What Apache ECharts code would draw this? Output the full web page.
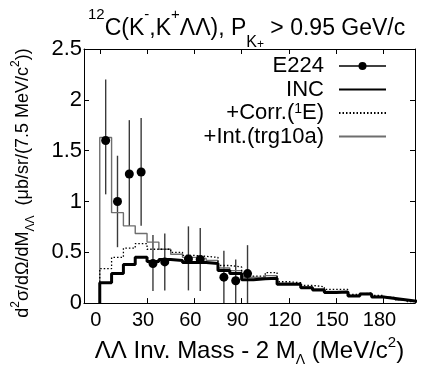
<!DOCTYPE html>
<html>
<head>
<meta charset="utf-8">
<script src="https://cdn.jsdelivr.net/npm/echarts@6/dist/echarts.min.js"></script>
<style>html,body{margin:0;padding:0;background:#fff}#c{width:421px;height:372px}</style>
</head>
<body>
<div id="c"></div>
<script>
// bins of 7.5 MeV starting at 0
const binWidth = 7.5;
const incValues  = [0.20, 0.29, 0.38, 0.45, 0.41, 0.43, 0.42, 0.40, 0.40, 0.39, 0.32, 0.29, 0.23, 0.24, 0.245, 0.185, 0.185, 0.15, 0.13, 0.105, 0.11, 0.07, 0.09, 0.06, 0.045, 0.03, 0.015];
const corrValues = [0.34, 0.45, 0.54, 0.585, 0.53, 0.53, 0.50, 0.47, 0.46, 0.45, 0.37, 0.355, 0.265, 0.265, 0.30, 0.21, 0.20, 0.175, 0.16, 0.135, 0.135, 0.085, 0.10, 0.075, 0.055, 0.035, 0.015];
const intValues  = [1.63, 0.89, 0.76, 0.685, 0.60, 0.53, 0.48, 0.45, 0.44, 0.42, 0.345, 0.32, 0.255, 0.25, 0.27, 0.195, 0.19, 0.16, 0.14, 0.115, 0.115, 0.075, 0.095, 0.065, 0.05, 0.03, 0.012];

// E224 data
const expX     = [3.75, 11.25, 18.75, 26.25, 33.75, 41.25, 56.25, 63.75, 78.75, 86.25, 93.75];
const expY     = [1.60, 1.00, 1.27, 1.29, 0.39, 0.405, 0.435, 0.43, 0.255, 0.22, 0.29];
const errPlus  = [0.60, 0.45, 0.53, 0.53, 0.28, 0.28, 0.32, 0.31, 0.26, 0.21, 0.28];
const errMinus = [0.53, 0.45, 0.51, 0.53, 0.27, 0.28, 0.31, 0.31, 0.26, 0.22, 0.29];

const xTicks = [0, 30, 60, 90, 120, 150, 180];
const yTicks = [0, 0.5, 1, 1.5, 2, 2.5];

function histData(vals) {
  const d = [[0, 0]];
  vals.forEach((v, i) => d.push([i * binWidth, v]));
  d.push([vals.length * binWidth, vals[vals.length - 1]]);
  return d;
}

const FONT = 'Liberation Sans';
const chart = echarts.init(document.getElementById('c'), null, {renderer: 'canvas'});

const legendNames = {
  'E224': '{n|E224}',
  'INC': '{n|INC}',
  '+Corr.(1E)': '{n|+Corr.(}{s|1}{n|E)}',
  '+Int.(trg10a)': '{n|+Int.(trg10a)}'
};

const option = {
  animation: false,
  backgroundColor: '#fff',
  title: {
    text: '{sup|12}{n|C(K}{sup|-}{n|,K}{sup|+}{n|ΛΛ), P}{sub|K}{sup2|+}{n| > 0.95 GeV/c}',
    left: 83, top: 2,
    textStyle: {
      fontWeight: 'normal',
      rich: {
        n: {fontSize: 23, fontFamily: FONT, color: '#000', lineHeight: 34, fontWeight: 'normal'},
        sup: {fontSize: 15, fontFamily: FONT, color: '#000', verticalAlign: 'top', lineHeight: 32, fontWeight: 'normal'},
        sub: {fontSize: 16, fontFamily: FONT, color: '#000', verticalAlign: 'bottom', lineHeight: 34, fontWeight: 'normal'},
        sup2: {fontSize: 12, fontFamily: FONT, color: '#000', verticalAlign: 'bottom', lineHeight: 44, fontWeight: 'normal'}
      }
    }
  },
  grid: {left: 84, right: 6, top: 49, bottom: 59, containLabel: false},
  legend: {
    orient: 'vertical', right: 34, top: 55, align: 'right',
    itemWidth: 47, itemHeight: 10, itemGap: 1.5, padding: 0,
    formatter: n => legendNames[n],
    textStyle: {
      padding: [0, 10, 0, 0],
      rich: {
        n: {fontSize: 22, fontFamily: FONT, color: '#000', lineHeight: 22},
        s: {fontSize: 14, fontFamily: FONT, color: '#000', verticalAlign: 'top', lineHeight: 22}
      }
    },
    data: [
      {name: 'E224', lineStyle: {width: 1.3, color: '#000', opacity: 1}},
      {name: 'INC', itemStyle: {opacity: 0}},
      {name: '+Corr.(1E)', itemStyle: {opacity: 0}},
      {name: '+Int.(trg10a)', itemStyle: {opacity: 0}}
    ]
  },
  xAxis: [{
    type: 'value', min: -10, max: 200, interval: 30,
    axisLine: {show: true, onZero: false, lineStyle: {color: '#000', width: 1.2}},
    axisTick: {show: true, inside: true, length: 5, lineStyle: {color: '#000'}, customValues: xTicks},
    axisLabel: {show: true, fontSize: 20, fontFamily: FONT, color: '#000', margin: 7, padding: [0, 8, 0, 0], customValues: xTicks},
    splitLine: {show: false},
    name: '{n|ΛΛ Inv. Mass - 2 M}{sub|Λ}{n| (MeV/c}{sup|2}{n|)}',
    nameLocation: 'middle', nameGap: 19,
    nameTextStyle: {rich: {
      n: {fontSize: 24, fontFamily: FONT, color: '#000', lineHeight: 32},
      sub: {fontSize: 14, fontFamily: FONT, color: '#000', verticalAlign: 'bottom', lineHeight: 32},
      sup: {fontSize: 15, fontFamily: FONT, color: '#000', verticalAlign: 'top', lineHeight: 32}
    }}
  }, {
    type: 'value', position: 'top', min: -10, max: 200,
    axisLine: {show: true, onZero: false, lineStyle: {color: '#000', width: 1}},
    axisTick: {show: true, inside: true, length: 5, lineStyle: {color: '#000'}, customValues: xTicks},
    axisLabel: {show: false}, splitLine: {show: false}
  }],
  yAxis: [{
    type: 'value', min: 0, max: 2.5, interval: 0.5,
    axisLine: {show: true, onZero: false, lineStyle: {color: '#000', width: 1}},
    axisTick: {show: true, inside: true, length: 5, lineStyle: {color: '#000'}},
    axisLabel: {show: true, fontSize: 22, fontFamily: FONT, color: '#000', margin: 2,
      formatter: v => yTicks.indexOf(v) >= 0 ? String(v) : ''},
    splitLine: {show: false},
    name: '{n|d}{sup|2}{n|σ/dΩ/dM}{sub|ΛΛ}{n|  (μb/sr/(7.5 MeV/c}{sup|2}{n|))}',
    nameLocation: 'middle', nameRotate: 90, nameGap: 47,
    nameTextStyle: {padding: [0, 14, 0, 0], rich: {
      n: {fontSize: 18, fontFamily: FONT, color: '#000', lineHeight: 27},
      sup: {fontSize: 12, fontFamily: FONT, color: '#000', verticalAlign: 'top', lineHeight: 27},
      sub: {fontSize: 12, fontFamily: FONT, color: '#000', verticalAlign: 'bottom', lineHeight: 27}
    }}
  }, {
    type: 'value', position: 'right', min: 0, max: 2.5, interval: 0.5,
    axisLine: {show: true, onZero: false, lineStyle: {color: '#000', width: 1}},
    axisTick: {show: true, inside: true, length: 5, lineStyle: {color: '#000'}},
    axisLabel: {show: false}, splitLine: {show: false}
  }],
  series: [
    {
      name: '+Int.(trg10a)', type: 'line', step: 'end', symbol: 'none', clip: true,
      data: histData(intValues),
      lineStyle: {color: '#6e6e6e', width: 1.4}, itemStyle: {color: '#6e6e6e'}
    },
    {
      name: '+Corr.(1E)', type: 'line', step: 'end', symbol: 'none', clip: true,
      data: histData(corrValues),
      lineStyle: {color: '#000', width: 1.3, type: [1.5, 2]}, itemStyle: {color: '#000'}
    },
    {
      name: 'INC', type: 'line', step: 'end', symbol: 'none', clip: true,
      data: histData(incValues),
      lineStyle: {color: '#000', width: 3}, itemStyle: {color: '#000'}
    },
    {
      name: 'errbars', type: 'custom', clip: true, silent: true,
      data: expX.map((x, i) => [x, expY[i], errMinus[i], errPlus[i]]),
      renderItem: function (params, api) {
        const x = api.value(0), y = api.value(1);
        const lo = api.coord([x, Math.max(0, y - api.value(2))]);
        const hi = api.coord([x, y + api.value(3)]);
        return {type: 'line', shape: {x1: lo[0], y1: lo[1], x2: hi[0], y2: hi[1]},
          style: {stroke: '#3a3a3a', lineWidth: 1.4}};
      },
      z: 3
    },
    {
      name: 'E224', type: 'line', symbol: 'circle', symbolSize: 9, showSymbol: true,
      data: expX.map((x, i) => [x, expY[i]]),
      lineStyle: {width: 0, color: '#000'}, itemStyle: {color: '#000'}, z: 4
    }
  ]
};
chart.setOption(option);
</script>
</body>
</html>
